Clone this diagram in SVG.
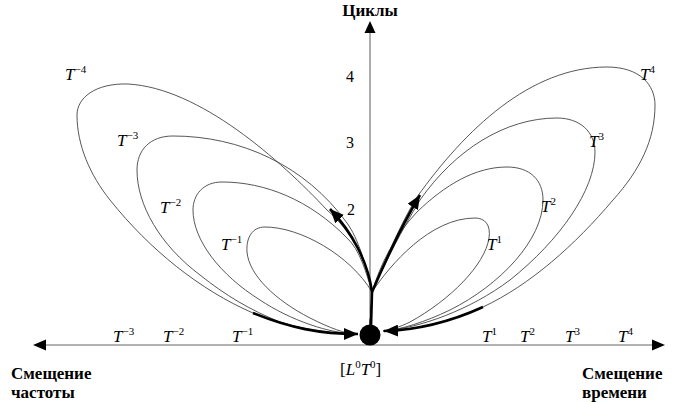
<svg xmlns="http://www.w3.org/2000/svg" width="680" height="402" viewBox="0 0 680 402" font-family="'Liberation Serif', 'DejaVu Serif', serif">
<style>
.ax{stroke:#999;stroke-width:1.6;fill:none}
.lp{stroke:#444;stroke-width:0.9;fill:none}
.th{stroke:#000;stroke-width:2.6;fill:none}
text{font-family:'Liberation Serif','DejaVu Serif',serif;fill:#000}
.n{font-size:16px}
.t{font-size:17px}
.i{font-style:italic}
.s{font-size:11px}
.b{font-size:17px;font-weight:bold}
</style>
<defs>
<marker id="ah" markerUnits="userSpaceOnUse" markerWidth="14" markerHeight="12" refX="14" refY="6" orient="auto">
<path d="M0,0 L14,6 L0,12 z" fill="#000"/>
</marker>
</defs>
<g id="axes">
<line class="ax" x1="45" y1="345" x2="652" y2="345"/>
<line class="ax" x1="370" y1="345" x2="370" y2="32"/>
<path d="M33,345 L46,339.5 L46,350.5 z" fill="#000"/>
<path d="M665,345 L652,339.5 L652,350.5 z" fill="#000"/>
<path d="M370,21 L364.5,33 L375.5,33 z" fill="#000"/>
<text class="b" x="370" y="16" text-anchor="middle">Циклы</text>
<text class="n" x="346" y="82">4</text>
<text class="n" x="346" y="148">3</text>
<text class="n" x="347" y="215">2</text>
</g>
<g id="connectors">
<g id="loop-m4"><path class="lp" d="M370,325 C371,310 372,300 372,292 C368,260 350,230 327,210 C280,160 200,88 128,84 C95,83 77,98 77,115 C77,145 90,175 110,200 C150,250 200,290 253,313 C290,328 330,334 358,334"/></g>
<g id="loop-m3"><path class="lp" d="M370,325 C371,310 372,300 372,292 C366,265 358,238 347,223 C305,165 240,136 173,136 C150,136 137,150 137,170 C137,205 160,245 200,275 C225,295 250,310 280,322 C310,332 335,334 358,334"/></g>
<g id="loop-m2"><path class="lp" d="M370,325 C371,310 372,300 372,292 C366,272 360,250 347,238 C310,200 265,182 222,182 C203,182 193,195 193,210 C193,240 220,275 260,300 C290,320 330,334 358,334"/></g>
<g id="loop-m1"><path class="lp" d="M370,325 C371,310 372,300 372,292 C350,255 300,227 265,227 C252,227 246,238 247,252 C249,275 275,300 310,318 C330,328 345,334 358,334"/></g>
<g id="loop-p4"><path class="lp" d="M370,325 C371,310 372,300 372,292 C385,260 400,225 417,197 C465,130 530,67 607,67 C640,67 655,85 655,105 C655,140 640,170 613,200 C575,245 530,285 483,307 C450,322 415,330 383,331"/></g>
<g id="loop-p3"><path class="lp" d="M370,325 C371,310 372,300 372,292 C385,262 402,230 420,200 C455,150 505,118 557,118 C580,118 595,132 595,152 C595,190 560,240 510,280 C470,310 420,328 383,331"/></g>
<g id="loop-p2"><path class="lp" d="M370,325 C371,310 372,300 372,292 C380,265 395,235 417,212 C445,185 475,167 507,167 C530,167 543,180 543,200 C543,240 500,285 450,310 C425,322 400,330 383,331"/></g>
<g id="loop-p1"><path class="lp" d="M370,325 C371,310 372,300 372,292 C390,265 430,218 475,218 C485,218 491,225 489,238 C485,265 450,300 410,322 C400,327 390,330 383,331"/></g>
<path class="th" d="M371,327 L372,292 C368,262 352,232 330,209" marker-end="url(#ah)"/>
<path class="th" d="M372,292 C385,262 400,228 420,195" marker-end="url(#ah)"/>
<path class="th" d="M253,313 C290,328 320,334 358,334" marker-end="url(#ah)"/>
<path class="th" d="M483,307 C450,322 420,330 384,331" marker-end="url(#ah)"/>
</g>
<g id="origin">
<circle cx="370" cy="335" r="10.5" fill="#000"/>
<text class="t" x="340" y="375">[<tspan class="i">L</tspan><tspan class="s" dy="-7">0</tspan><tspan class="i" dy="7">T</tspan><tspan class="s" dy="-7">0</tspan><tspan dy="7">]</tspan></text>
</g>
<g id="loop-labels">
<text class="t" x="65" y="80"><tspan class="i">T</tspan><tspan class="s" dy="-7">−4</tspan></text>
<text class="t" x="117" y="146"><tspan class="i">T</tspan><tspan class="s" dy="-7">−3</tspan></text>
<text class="t" x="160" y="213"><tspan class="i">T</tspan><tspan class="s" dy="-7">−2</tspan></text>
<text class="t" x="221" y="250"><tspan class="i">T</tspan><tspan class="s" dy="-7">−1</tspan></text>
<text class="t" x="640" y="80"><tspan class="i">T</tspan><tspan class="s" dy="-7">4</tspan></text>
<text class="t" x="589" y="147"><tspan class="i">T</tspan><tspan class="s" dy="-7">3</tspan></text>
<text class="t" x="541" y="212"><tspan class="i">T</tspan><tspan class="s" dy="-7">2</tspan></text>
<text class="t" x="487" y="250"><tspan class="i">T</tspan><tspan class="s" dy="-7">1</tspan></text>
</g>
<g id="axis-labels">
<text class="t" x="113" y="342"><tspan class="i">T</tspan><tspan class="s" dy="-7">−3</tspan></text>
<text class="t" x="163" y="342"><tspan class="i">T</tspan><tspan class="s" dy="-7">−2</tspan></text>
<text class="t" x="232" y="342"><tspan class="i">T</tspan><tspan class="s" dy="-7">−1</tspan></text>
<text class="t" x="482" y="342"><tspan class="i">T</tspan><tspan class="s" dy="-7">1</tspan></text>
<text class="t" x="520" y="342"><tspan class="i">T</tspan><tspan class="s" dy="-7">2</tspan></text>
<text class="t" x="565" y="342"><tspan class="i">T</tspan><tspan class="s" dy="-7">3</tspan></text>
<text class="t" x="618" y="342"><tspan class="i">T</tspan><tspan class="s" dy="-7">4</tspan></text>
<text class="b" x="11" y="379">Смещение</text>
<text class="b" x="11" y="398">частоты</text>
<text class="b" x="582" y="379">Смещение</text>
<text class="b" x="582" y="398">времени</text>
</g>
</svg>
